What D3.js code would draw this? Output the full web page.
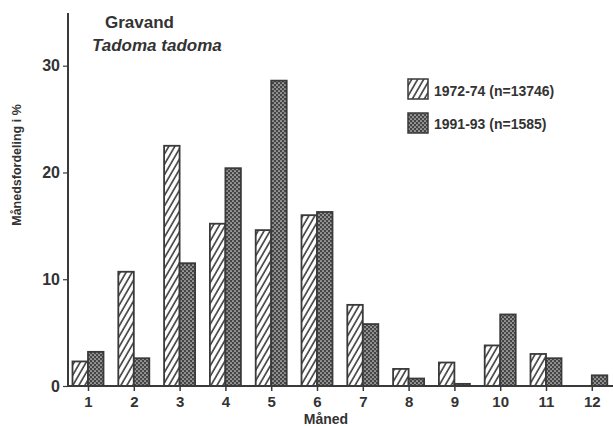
<!DOCTYPE html>
<html><head><meta charset="utf-8">
<script src="https://cdn.jsdelivr.net/npm/d3@7"></script>
<style>body{margin:0;background:#fff;}svg{display:block;}text{font-family:"Liberation Sans",Arial,sans-serif;fill:#333;}</style>
</head><body>
<svg id="c" width="613" height="426"></svg>
<script>
const months = ["1","2","3","4","5","6","7","8","9","10","11","12"];
const series1972 = [2.3,10.7,22.5,15.2,14.6,16.0,7.6,1.6,2.2,3.8,3.0,0];
const series1991 = [3.2,2.6,11.5,20.4,28.6,16.3,5.8,0.7,0.2,6.7,2.6,1.0];
const yTicks = [0,10,20,30];
const legendLabels = ["1972-74 (n=13746)","1991-93 (n=1585)"];
const titleMain = "Gravand";
const titleLatin = "Tadoma tadoma";
const xTitle = "Måned";
const yTitle = "Månedsfordeling i %";

const ink = "#3a3a3a";
const FONT = "'Liberation Sans',Arial,sans-serif";
const svg = d3.select("#c");
const defs = svg.append("defs");
const hp = defs.append("pattern").attr("id","hatch").attr("patternUnits","userSpaceOnUse")
  .attr("width",5.2).attr("height",5.2).attr("patternTransform","rotate(30)");
hp.append("rect").attr("width",5.2).attr("height",5.2).attr("fill","#fff");
hp.append("line").attr("x1",1).attr("y1",0).attr("x2",1).attr("y2",5.2).attr("stroke",ink).attr("stroke-width",1.6);
const dp = defs.append("pattern").attr("id","dots").attr("patternUnits","userSpaceOnUse")
  .attr("width",4).attr("height",4);
dp.append("rect").attr("width",4).attr("height",4).attr("fill","#454545");
dp.append("circle").attr("cx",1).attr("cy",1).attr("r",0.85).attr("fill","#d8d8d8");
dp.append("circle").attr("cx",3).attr("cy",3).attr("r",0.85).attr("fill","#d8d8d8");

const y = d3.scaleLinear().domain([0,30]).range([386,65.7]);
const x = d3.scalePoint().domain(months).range([88,591.8]);
const bw = 15.5;

// y axis
const yAxis = d3.axisLeft(y).tickValues(yTicks).tickSize(5).tickPadding(3).tickFormat(d3.format("d"));
const ga = svg.append("g").attr("transform","translate(68,0)").call(yAxis);
ga.select(".domain").remove();
ga.selectAll("line").attr("stroke",ink).attr("stroke-width",1.2);
ga.selectAll("text").attr("font-size",16).attr("font-weight","bold").attr("fill","#333").style("font-family",FONT);
svg.append("line").attr("x1",68).attr("x2",68).attr("y1",13).attr("y2",386).attr("stroke",ink).attr("stroke-width",2);

// bars
const g = svg.append("g");
g.selectAll("rect.a").data(series1972).join("rect").attr("class","a")
  .attr("x",(d,i)=>x(months[i])-bw).attr("width",bw)
  .attr("y",d=>y(d)).attr("height",d=>y(0)-y(d))
  .attr("fill","url(#hatch)").attr("stroke",ink).attr("stroke-width",d=>d>0?1.8:0);
g.selectAll("rect.b").data(series1991).join("rect").attr("class","b")
  .attr("x",(d,i)=>x(months[i])).attr("width",bw)
  .attr("y",d=>y(d)).attr("height",d=>y(0)-y(d))
  .attr("fill","url(#dots)").attr("stroke",ink).attr("stroke-width",1.8);

// x axis
const xAxis = d3.axisBottom(x).tickSize(5).tickPadding(5);
const gx = svg.append("g").attr("transform","translate(0,386)").call(xAxis);
gx.select(".domain").remove();
gx.selectAll("line").attr("stroke",ink).attr("stroke-width",1.5);
gx.selectAll("text").attr("font-size",15).attr("font-weight","bold").attr("fill","#333").style("font-family",FONT);
svg.append("line").attr("x1",68).attr("x2",613).attr("y1",386).attr("y2",386).attr("stroke",ink).attr("stroke-width",2);

svg.append("text").attr("x",326).attr("y",424).attr("text-anchor","middle")
  .attr("font-size",14).attr("font-weight","bold").text(xTitle);
svg.append("text").attr("transform","translate(21,165) rotate(-90)").attr("text-anchor","middle")
  .attr("font-size",12.5).attr("font-weight","bold").text(yTitle);

// titles
svg.append("text").attr("x",105).attr("y",28).attr("font-size",17).attr("font-weight","bold").text(titleMain);
svg.append("text").attr("x",92).attr("y",51).attr("font-size",17).attr("font-weight","bold").attr("font-style","italic").text(titleLatin);

// legend
const leg = svg.append("g");
const fills = ["url(#hatch)","url(#dots)"];
legendLabels.forEach((t,i)=>{
  leg.append("rect").attr("x",408).attr("y",79+i*34).attr("width",20).attr("height",20)
    .attr("fill",fills[i]).attr("stroke",ink).attr("stroke-width",1.5);
  leg.append("text").attr("x",434).attr("y",96+i*33).attr("font-size",14).attr("font-weight","bold").text(t);
});
</script>
</body></html>
